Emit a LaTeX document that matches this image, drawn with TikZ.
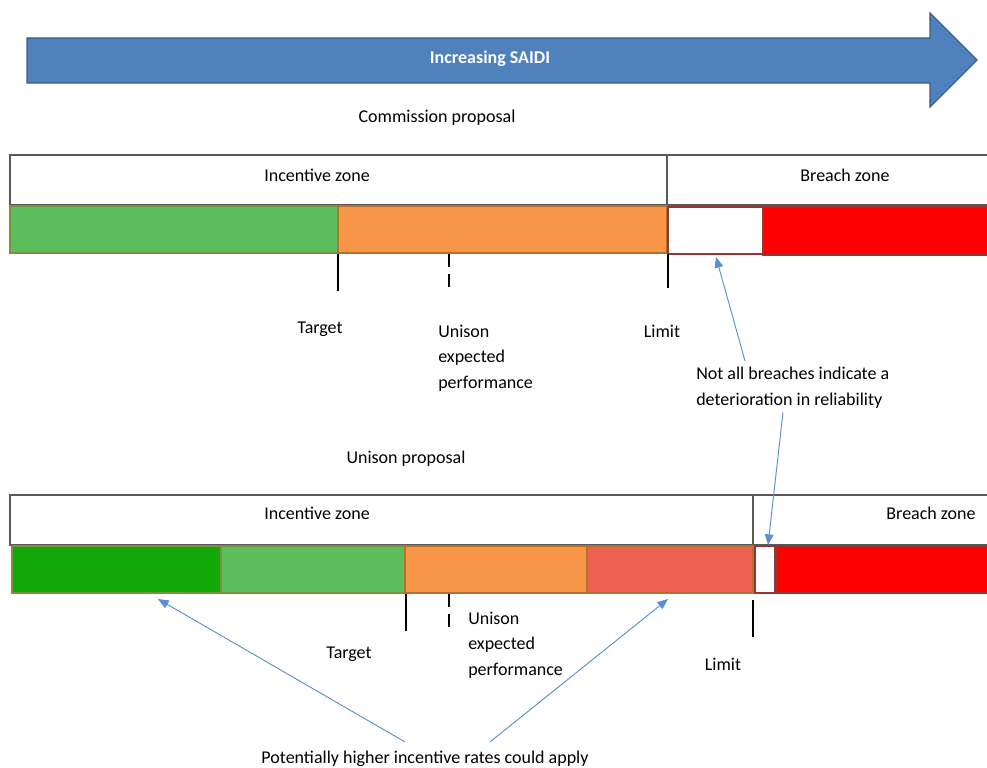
\documentclass[tikz,border=0pt]{standalone}
\usepackage{fontspec}
\setmainfont{Carlito}
\usetikzlibrary{arrows.meta}
\definecolor{saidiblue}{HTML}{4F81BD}
\definecolor{saidiedge}{HTML}{385D8A}
\definecolor{lightgreen}{HTML}{5BBD5C}
\definecolor{darkgreen}{HTML}{11A808}
\definecolor{greenedge}{HTML}{77933C}
\definecolor{zoneorange}{HTML}{F79646}
\definecolor{orangeedge}{HTML}{B9702F}
\definecolor{salmon}{HTML}{EE6152}
\definecolor{zonered}{HTML}{FF0000}
\definecolor{rededge}{HTML}{943634}
\definecolor{pointerblue}{HTML}{5B8FCF}
\tikzset{
  txt/.style={font=\fontsize{13.5}{19}\selectfont, inner sep=0pt},
  header/.style={draw=black!65, line width=1pt},
  segment/.style={line width=1.8pt},
  marker/.style={line width=2pt},
  pointer/.style={draw=pointerblue, line width=0.7pt, -{Triangle[length=8pt,width=6.5pt]}}
}
\begin{document}
\begin{tikzpicture}[x=0.75pt,y=-0.75pt,line join=miter]
  \useasboundingbox (0,0) rectangle (987,767);
  % increasing SAIDI arrow
  \draw[fill=saidiblue, draw=saidiedge, line width=1pt]
    (27,38) -- (930,38) -- (930,13) -- (977,60) -- (930,107) -- (930,83) -- (27,83) -- cycle;
  \node[txt, text=white, font=\fontsize{13.5}{19}\selectfont\bfseries] (saidi) at (490,59) {Increasing SAIDI};

  % commission proposal
  \node[txt] (commission) at (437,118) {Commission proposal};
  \draw[header] (987,155) -- (10,155) -- (10,205) -- (987,205);
  \draw[header] (667,155) -- (667,205);
  \node[txt] (cincentive) at (317,175) {Incentive zone};
  \node[txt] (cbreach) at (845,175) {Breach zone};
  \draw[segment, fill=lightgreen, draw=greenedge] (10,206) rectangle (338,253);
  \draw[segment, fill=zoneorange, draw=orangeedge] (338,206) rectangle (667,253);
  \draw[segment, fill=white, draw=rededge] (668,207) rectangle (763,254);
  \draw[segment, fill=zonered, draw=rededge] (763,207) rectangle (990,255);
  \draw[marker] (338,254) -- (338,291);
  \draw[marker, dash pattern=on 10pt off 5pt] (449,254) -- (449,292);
  \draw[marker] (668,254) -- (668,288);
  \node[txt] (ctarget) at (320,329) {Target};
  \node[txt, align=left, anchor=north west] (cexpected) at (438,325) {Unison\\expected\\performance};
  \node[txt] (climit) at (662,331) {Limit};
  \coordinate (cgap) at (716,257);

  % breach note
  \node[txt, align=left, anchor=north west] (note) at (696,367) {Not all breaches indicate a\\deterioration in reliability};

  % unison proposal
  \node[txt] (unison) at (406,459) {Unison proposal};
  \draw[header] (987,495) -- (10,495) -- (10,545) -- (987,545);
  \draw[header] (753,495) -- (753,545);
  \node[txt] (uincentive) at (317,513) {Incentive zone};
  \node[txt] (ubreach) at (931,513) {Breach zone};
  \draw[segment, fill=darkgreen, draw=greenedge] (12,546) rectangle (221,593);
  \draw[segment, fill=lightgreen, draw=greenedge] (221,546) rectangle (405,593);
  \draw[segment, fill=zoneorange, draw=orangeedge] (405,546) rectangle (587,593);
  \draw[segment, fill=salmon, draw=orangeedge] (587,546) rectangle (753,593);
  \draw[segment, fill=white, draw=rededge] (755,546) rectangle (775,593);
  \draw[segment, fill=zonered, draw=rededge] (776,546) rectangle (990,593);
  \draw[marker] (406,594) -- (406,631);
  \draw[marker, dash pattern=on 10pt off 5pt] (449,594) -- (449,632);
  \draw[marker] (753,600) -- (753,637);
  \node[txt] (utarget) at (349,654) {Target};
  \node[txt, align=left, anchor=north west] (uexpected) at (468,612) {Unison\\expected\\performance};
  \node[txt] (ulimit) at (723,664) {Limit};
  \coordinate (ugap) at (768,545);
  \coordinate (udark) at (158,599);
  \coordinate (usalmon) at (668,599);

  % higher rates note
  \node[txt] (rates) at (425,759) {Potentially higher incentive rates could apply};

  % pointers
  \draw[pointer] (note.north west) ++(49,-6) -- (cgap);
  \draw[pointer] (note.south west) ++(87,4) -- (ugap);
  \draw[pointer] (rates.north) ++(-20,-9) -- (udark);
  \draw[pointer] (rates.north) ++(65,-9) -- (usalmon);
\end{tikzpicture}
\end{document}
